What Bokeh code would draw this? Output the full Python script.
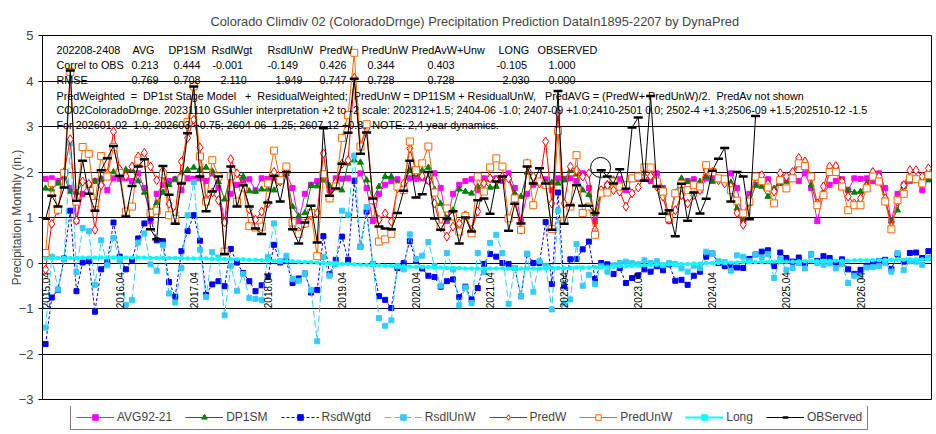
import math
from bokeh.plotting import figure
from bokeh.layouts import column
from bokeh.models import ColumnDataSource, Range1d, FixedTicker, Legend, LegendItem
from bokeh.core.properties import value
from bokeh.embed import file_html
from bokeh.resources import INLINE

nan = float("nan")
FONT = "Liberation Sans"

# ---------------- data (monthly, 2015.04 ... 2027.03) ----------------
avg92_21 = [
    1.85, 1.86, 1.80, 1.97, 1.65, 0.92, 1.52, 1.72, 1.80, 1.84, 1.60, 1.86,
    1.85, 1.86, 1.80, 1.97, 1.65, 0.92, 1.52, 1.72, 1.80, 1.84, 1.60, 1.86,
    1.85, 1.86, 1.80, 1.97, 1.65, 0.92, 1.52, 1.72, 1.80, 1.84, 1.60, 1.86,
    1.85, 1.86, 1.80, 1.97, 1.65, 0.92, 1.52, 1.72, 1.80, 1.84, 1.60, 1.86,
    1.85, 1.86, 1.80, 1.97, 1.65, 0.92, 1.52, 1.72, 1.80, 1.84, 1.60, 1.86,
    1.85, 1.86, 1.80, 1.97, 1.65, 0.92, 1.52, 1.72, 1.80, 1.84, 1.60, 1.86,
    1.85, 1.86, 1.80, 1.97, 1.65, 0.92, 1.52, 1.72, 1.80, 1.84, 1.60, 1.86,
    1.85, 1.86, 1.80, 1.97, 1.65, 0.92, 1.52, 1.72, 1.80, 1.84, 1.60, 1.86,
    1.85, 1.86, 1.80, 1.97, 1.65, 0.92, 1.52, 1.72, 1.80, 1.84, 1.60, 1.86,
    1.85, 1.86, 1.80, 1.97, 1.65, 0.92, 1.52, 1.72, 1.80, 1.84, 1.60, 1.86,
    1.85, 1.86, 1.80, 1.97, 1.65, 0.92, 1.52, 1.72, 1.80, 1.84, 1.60, 1.86,
    1.85, 1.86, 1.80, 1.97, 1.65, 0.92, 1.52, 1.72, 1.80, 1.84, 1.60, 1.86,
]
dp1sm = [
    1.64, 1.62, 1.75, 1.90, 1.57, 1.55, 1.78, 1.70, 1.80, 1.85, 1.95, 2.00,
    1.92, 2.05, 2.05, 1.80, 1.55, 1.13, 1.32, 1.55, 1.72, 1.84, 1.97, 2.05,
    2.10, 2.05, 2.10, 2.02, 1.78, 1.40, 1.97, 1.96, 1.90, 1.58, 1.57, 1.62,
    1.62, 1.60, 1.78, 1.96, 1.24, 1.03, 1.10, 1.70, 1.69, 1.82, 1.70, 1.70,
    1.60, 2.19, 2.26, 2.21, 1.82, 1.40, 1.68, 1.90, 1.90, 1.75, 1.74, 2.04,
    1.95, 2.03, 2.10, 1.62, 1.30, 0.98, 1.16, 1.62, 1.57, 1.53, 1.68, 1.77,
    1.66, 1.68, 1.90, 1.88, 1.53, 1.46, 1.99, 1.90, 1.75, 1.77, 1.77, 1.75,
    1.82, 2.04, 1.95, 1.60, 1.50, 1.08, 1.60, 1.74, 1.84, 1.68, 1.68, 1.86,
    1.93, 2.04, 2.10, 1.75, 1.62, 0.98, 1.55, 1.86, 1.79, 1.77, 1.79, 1.90,
    1.79, 1.82, 1.82, 1.77, 1.20, 0.95, 1.31, 1.71, 1.68, 1.46, 1.64, 1.74,
    1.79, 1.97, 2.19, 2.25, 1.71, 1.27, 1.53, 2.01, 2.12, 1.71, 1.60, 1.55,
    1.57, 1.74, 1.99, 1.86, 1.35, 0.93, 1.16, 1.68, 1.82, 1.81, 1.79, 1.82,
]
rsd_wgtd = [
    -1.78, -0.76, -0.59, 0.10, 1.15, -0.62, 0.01, 0.04, -1.07, -0.14, 0.02, 0.89,
    0.14, -0.14, 0.07, 0.54, 0.87, 0.99, 0.50, 0.48, -0.42, -0.74, 0.26, 0.70,
    1.05, 0.49, -0.70, -0.47, -0.40, -0.51, 0.31, 0.01, -0.22, -0.40, -0.62, -0.49,
    -0.31, 0.40, 0.01, 0.04, -0.44, -0.34, -0.23, -0.65, -0.59, 0.59, -0.24, 0.07,
    0.58, 0.07, 1.81, 0.36, 1.13, -0.02, -0.73, -0.81, -0.99, -0.11, 0.00, 0.48,
    0.05, -0.12, -0.28, -0.31, -0.52, -0.40, -0.36, -0.75, -0.52, -0.80, -0.55, -0.02,
    0.20, 0.14, 0.00, -0.02, -0.11, -0.73, 0.20, 0.00, 0.00, 0.90, -0.46, 1.55,
    -0.51, 0.08, 0.09, 0.30, 0.47, -0.35, 0.00, -0.03, -0.24, -0.11, -0.44, -0.33,
    -0.27, -0.14, -0.19, -0.07, -0.16, -0.03, -0.39, -0.37, -0.48, -0.28, -0.19, 0.14,
    0.21, 0.00, -0.07, -0.09, -0.10, -0.11, 0.09, 0.19, 0.25, 0.28, -0.07, 0.23,
    0.11, 0.03, 0.12, -0.02, 0.19, 0.04, 0.15, 0.11, 0.01, 0.08, -0.14, -0.24,
    -0.15, -0.06, 0.01, 0.04, 0.07, -0.13, 0.19, 0.03, 0.22, 0.23, 0.11, 0.26,
]
rsdl_unw = [
    -1.42, 0.14, -0.58, 0.08, 2.63, -0.20, 0.77, 0.70, -0.48, 0.50, -0.05, 0.55,
    0.06, -0.92, -0.81, 0.45, 0.65, -0.03, -0.17, 0.40, -0.67, -0.87, -0.11, 1.05,
    1.78, 0.29, -0.75, 0.24, 0.12, -1.15, -0.06, -0.61, -0.24, -0.77, -0.79, -0.82,
    0.13, 0.87, 0.04, 0.16, -0.35, -0.39, -0.23, -0.60, -1.72, 0.13, -0.28, -0.02,
    1.15, 1.06, 2.36, 0.35, 1.23, -0.02, -1.21, -1.38, -1.26, -0.07, -0.14, 0.63,
    0.09, 0.16, 0.46, -0.07, -0.50, 0.22, -0.14, -0.93, -0.54, -0.88, 0.22, -0.20,
    0.44, 0.62, 0.22, -0.90, -0.11, -0.73, 0.20, -0.63, 0.04, -0.06, -1.02, 1.15,
    -0.89, -0.80, 0.42, -0.50, -0.26, -0.46, -0.07, -0.19, -0.05, 0.00, 0.03, 0.00,
    -0.03, 0.06, 0.00, 0.04, -0.05, 0.00, -0.02, -0.12, -0.19, -0.06, -0.11, 0.25,
    0.21, 0.04, 0.02, -0.17, 0.17, 0.14, 0.04, 0.19, 0.12, 0.20, -0.33, 0.08,
    -0.15, -0.11, 0.00, -0.12, 0.19, 0.00, -0.04, -0.01, -0.12, -0.03, -0.44, -0.28,
    -0.30, -0.10, -0.09, -0.07, 0.00, -0.19, 0.22, -0.16, 0.04, 0.03, -0.04, 0.11,
]
pred_w = [
    -0.14, 0.86, 1.16, 2.00, 2.72, 0.93, 1.79, 1.74, 0.73, 1.71, 1.97, 2.89,
    2.06, 1.91, 2.12, 2.34, 2.42, 2.12, 1.82, 2.03, 1.30, 1.10, 2.23, 2.75,
    3.15, 2.54, 1.40, 1.55, 1.38, 0.89, 2.28, 1.97, 1.68, 1.18, 0.95, 1.13,
    1.31, 2.00, 1.79, 2.00, 0.80, 0.69, 0.87, 1.05, 1.10, 2.41, 1.46, 1.77,
    2.18, 2.26, 4.07, 2.57, 2.95, 1.38, 0.95, 1.09, 0.91, 1.64, 1.74, 2.52,
    2.00, 1.91, 1.82, 1.31, 0.78, 0.58, 0.80, 0.87, 1.05, 0.73, 1.13, 1.75,
    1.86, 1.82, 1.90, 1.86, 1.42, 0.73, 2.19, 1.90, 1.75, 2.67, 1.31, 3.30,
    1.31, 2.12, 2.04, 1.90, 1.97, 0.73, 1.60, 1.71, 1.60, 1.57, 1.24, 1.53,
    1.66, 1.90, 1.91, 1.68, 1.46, 0.95, 1.16, 1.49, 1.31, 1.49, 1.60, 2.04,
    2.00, 1.82, 1.75, 1.68, 1.10, 0.84, 1.40, 1.90, 1.93, 1.74, 1.57, 1.97,
    1.90, 2.00, 2.31, 2.23, 1.90, 1.31, 1.68, 2.12, 2.13, 1.79, 1.46, 1.31,
    1.42, 1.68, 2.00, 1.90, 1.42, 0.80, 1.35, 1.71, 2.04, 2.04, 1.90, 2.08,
]
pred_unw = [
    0.22, 1.76, 1.17, 1.98, 4.20, 1.35, 2.55, 2.40, 1.32, 2.35, 1.90, 2.55,
    1.98, 1.13, 1.24, 2.25, 2.20, 1.10, 1.15, 1.95, 1.05, 0.97, 1.86, 3.10,
    3.88, 2.34, 1.35, 2.26, 1.90, 0.25, 1.91, 1.35, 1.66, 0.81, 0.78, 0.80,
    1.75, 2.47, 1.82, 2.12, 0.89, 0.64, 0.87, 1.10, 0.15, 1.95, 1.42, 1.68,
    2.75, 3.25, 4.62, 2.56, 3.05, 1.38, 0.47, 0.52, 0.64, 1.68, 1.60, 2.67,
    2.04, 2.19, 2.56, 1.55, 0.80, 1.20, 1.02, 0.69, 1.03, 0.65, 1.90, 1.57,
    2.10, 2.30, 2.12, 0.98, 1.42, 0.73, 2.19, 1.27, 1.79, 1.71, 0.75, 2.90,
    0.93, 1.24, 2.37, 1.10, 1.24, 0.62, 1.53, 1.55, 1.79, 1.68, 1.71, 1.86,
    1.90, 2.10, 2.10, 1.79, 1.57, 0.98, 1.53, 1.74, 1.60, 1.71, 1.68, 2.15,
    2.00, 1.86, 1.84, 1.60, 1.37, 1.09, 1.35, 1.90, 1.80, 1.66, 1.31, 1.82,
    1.64, 1.86, 2.19, 2.13, 1.90, 1.27, 1.49, 2.00, 2.00, 1.68, 1.16, 1.27,
    1.27, 1.64, 1.90, 1.79, 1.35, 0.74, 1.38, 1.52, 1.86, 1.84, 1.75, 1.93,
]
long_term = [
    0.10, 0.10, 0.11, 0.11, 0.11, 0.11, 0.12, 0.12, 0.12, 0.12, 0.12, 0.12,
    0.12, 0.12, 0.12, 0.12, 0.12, 0.11, 0.11, 0.11, 0.11, 0.11, 0.11, 0.10,
    0.10, 0.10, 0.10, 0.09, 0.09, 0.09, 0.08, 0.08, 0.08, 0.07, 0.07, 0.06,
    0.06, 0.05, 0.05, 0.04, 0.04, 0.03, 0.02, 0.02, 0.01, 0.00, 0.00, -0.01,
    -0.02, -0.02, -0.03, -0.04, -0.04, -0.05, -0.05, -0.06, -0.06, -0.07, -0.07, -0.08,
    -0.08, -0.09, -0.09, -0.10, -0.10, -0.11, -0.11, -0.11, -0.12, -0.12, -0.12, -0.12,
    -0.12, -0.12, -0.12, -0.12, -0.12, -0.12, -0.12, -0.12, -0.12, -0.12, -0.11, -0.11,
    -0.11, -0.11, -0.10, -0.10, -0.10, -0.09, -0.09, -0.08, -0.08, -0.07, -0.07, -0.06,
    -0.06, -0.05, -0.05, -0.04, -0.04, -0.03, -0.03, -0.02, -0.02, -0.01, -0.01, 0.00,
    0.00, 0.00, 0.01, 0.01, 0.01, 0.02, 0.02, 0.02, 0.02, 0.03, 0.03, 0.03,
    0.03, 0.03, 0.04, 0.04, 0.04, 0.04, 0.05, 0.05, 0.05, 0.05, 0.05, 0.06,
    0.06, 0.06, 0.06, 0.06, 0.07, 0.07, 0.07, 0.07, 0.08, 0.08, 0.08, 0.08,
]
observed = [
    0.97, 1.48, 1.24, 1.66, 4.23, 1.37, 2.25, 1.52, 1.15, 2.04, 2.30, 2.57,
    1.92, 1.02, 1.69, 2.12, 2.28, 0.74, 0.52, 2.13, 1.50, 0.86, 1.75, 2.85,
    3.88, 1.90, 1.14, 1.57, 1.90, 0.20, 2.12, 1.24, 1.71, 1.24, 0.76, 0.64,
    1.33, 1.92, 1.35, 2.00, 0.74, 0.43, 0.89, 1.26, 0.45, 2.96, 1.48, 1.64,
    2.18, 2.86, 4.05, 2.40, 2.87, 1.42, 0.80, 0.76, 0.74, 1.10, 1.59, 2.25,
    1.44, 1.51, 2.00, 0.98, 0.73, 0.98, 1.14, 0.43, 1.00, 0.69, 1.38, 1.42,
    1.08, 1.79, 1.90, 0.71, 1.30, 0.87, 2.12, 1.75, 2.08, 1.75, 0.73, 3.78,
    0.86, 1.27, 1.71, 1.26, 1.26, 1.10, 2.04, 1.90, 1.75, 2.06, 1.63, 2.98,
    3.20, 1.81, 3.67, 1.68, 1.08, 1.16, 0.59, 1.74, 0.93, 1.55, 1.09, 1.41,
    2.03, 2.29, 2.53, 1.35, 2.00, 1.90, 0.96, 3.23, nan, nan, nan, nan,
    nan, nan, nan, nan, nan, nan, nan, nan, nan, nan, nan, nan,
    nan, nan, nan, nan, nan, nan, nan, nan, nan, nan, nan, nan,
]

tick_labels = ["2015.04", "2016.04", "2017.04", "2018.04", "2019.04", "2020.04",
               "2021.04", "2022.04", "2023.04", "2024.04", "2025.04", "2026.04"]

# statistics table written inside the chart
hdr_row = ["202208-2408", "AVG", "DP1SM", "RsdlWgt", "RsdlUnW", "PredW", "PredUnW",
           "PredAvW+Unw", "LONG", "OBSERVED"]
corr_row = ["Correl to OBS", "0.213", "0.444", "-0.001", "-0.149", "0.426", "0.344",
            "0.403", "-0.105", "1.000"]
rmse_row = ["RMSE", "0.769", "0.708", "2.110", "1.949", "0.747", "0.728", "0.728",
            "2.030", "0.000"]
note_lines = [
    "PredWeighted  =  DP1st Stage Model   +  ResidualWeighted;  PredUnW = DP11SM + ResidualUnW,   PredAVG = (PredW+ PredUnW)/2.  PredAv not shown",
    "CO02ColoradoDrnge. 20231110 GSuhler interpretation +2 to -2 scale: 202312+1.5; 2404-06 -1.0; 2407-09 +1.0;2410-2501 0.0; 2502-4 +1.3;2506-09 +1.5;202510-12 -1.5",
    "For 202601-02  1.0; 202603 +0.75; 2604-06  1.25; 2607-12 +0.8.  NOTE: 2,4 year dynamics.",
]
# ---------------------------------------------------------------------

n = len(avg92_21)
x = list(range(n))

p = figure(width=936, height=406, output_backend="svg", toolbar_location=None,
           x_range=Range1d(-0.5, n - 0.5), y_range=Range1d(-3, 5),
           x_axis_location=None,
           min_border_left=42, min_border_right=5, min_border_top=35, min_border_bottom=7,
           background_fill_color="white", border_fill_color="white")

p.title.text = "Colorado Climdiv 02 (ColoradoDrnge) Precipitation Prediction DataIn1895-2207 by DynaPred"
p.title.text_font = FONT
p.title.text_font_size = "12.8px"
p.title.text_font_style = "normal"
p.title.align = "left"
p.title.offset = 168
p.title.standoff = 14

ticks = FixedTicker(ticks=[-3, -2, -1, 0, 1, 2, 3, 4, 5])
p.yaxis.ticker = ticks
p.yaxis.axis_label = "Precipitation Monthly (in.)"
p.yaxis.axis_label_text_font = FONT
p.yaxis.axis_label_text_font_size = "12px"
p.yaxis.axis_label_text_font_style = "normal"
p.yaxis.axis_label_standoff = -8
p.yaxis.major_label_text_font = FONT
p.yaxis.major_label_text_font_size = "13px"
p.yaxis.major_label_standoff = 5
p.yaxis.major_tick_out = 4
p.yaxis.major_tick_in = 0
p.yaxis.minor_tick_out = 0
p.yaxis.minor_tick_in = 0
p.yaxis.axis_line_color = "black"
p.yaxis.major_tick_line_color = "black"
p.ygrid.ticker = ticks
p.ygrid.grid_line_color = "black"
p.ygrid.grid_line_width = 1
p.xgrid.visible = False
p.outline_line_color = "black"
p.outline_line_alpha = 1

src = ColumnDataSource(dict(x=x, avg=avg92_21, dp=dp1sm, rw=rsd_wgtd, ru=rsdl_unw,
                            pw=pred_w, pu=pred_unw, lg=long_term, ob=observed))

STYLES = [
    # label, column, colour, marker, size, fill, dash, line width, marker line width
    ("AVG92-21", "avg", "#FF00FF", "square", 5, "#FF00FF", "solid", 1.0, 1.0),
    ("DP1SM", "dp", "#008000", "triangle", 6, "#008000", "solid", 1.0, 1.0),
    ("RsdWgtd", "rw", "#0000FF", "square", 5, "#0000FF", "3 2", 1.0, 1.0),
    ("RsdlUnW", "ru", "#33CCFF", "square", 5, "#33CCFF", "7 3", 1.0, 1.0),
    ("PredW", "pw", "#FF0000", "diamond", 9, "white", "solid", 1.0, 1.0),
    ("PredUnW", "pu", "#FF6600", "square", 7, "white", "solid", 1.0, 1.0),
    ("Long", "lg", "#00FFFF", "square", 3, "#00FFFF", "solid", 2.0, 1.0),
    ("OBServed", "ob", "black", "dash", 9, "black", "solid", 1.0, 2.5),
]

for lab, col, color, mk, sz, fill, dash, lw, mlw in STYLES:
    p.line("x", col, source=src, line_color=color, line_width=lw, line_dash=dash)
    p.scatter("x", col, source=src, marker=mk, size=sz, line_color=color,
              fill_color=fill, line_width=mlw)

# circled annotation in the chart
p.scatter([89.9], [2.1], marker="circle", size=20, fill_color=None, line_color="black")

# category labels along the zero line (rotated)
p.text(x=[12 * k for k in range(len(tick_labels))], y=[-0.2] * len(tick_labels),
       text=tick_labels, angle=math.pi / 2, text_align="right", text_baseline="middle",
       text_font=value(FONT), text_font_size="10px", text_color="black")

# statistics table text (double spaces kept with no-break spaces)
def keep_spaces(s):
    return s.replace("  ", " \u00a0")

hdr_px = [56, 132, 168, 211, 267, 319, 361, 411, 498, 537]
corr_px = [56, 131, 173, 212, 267, 319, 367, 427, 496, 548]
rmse_px = [56, 131, 173, 220, 275, 319, 367, 427, 502, 548]
tx, ty, tt, toff = [], [], [], []
for row, pxs, yv in ((hdr_row, hdr_px, 4.68), (corr_row, corr_px, 4.35), (rmse_row, rmse_px, 4.02)):
    for t, px in zip(row, pxs):
        tx.append(-0.5); ty.append(yv); tt.append(t); toff.append(px - 42)
for t, yv in zip(note_lines, (3.68, 3.36, 3.03)):
    tx.append(-0.5); ty.append(yv); tt.append(keep_spaces(t)); toff.append(56 - 42)
tsrc = ColumnDataSource(dict(x=tx, y=ty, text=tt, xo=toff))
p.text("x", "y", text="text", x_offset="xo", source=tsrc, text_align="left",
       text_baseline="middle", text_font=value(FONT), text_font_size="10.8px",
       text_color="black")

# ---- legend strip below the chart (separate small figure) ----
lf = figure(width=936, height=28, output_backend="svg", toolbar_location=None,
            x_range=Range1d(0, 1), y_range=Range1d(0, 1),
            x_axis_location=None, y_axis_location=None,
            min_border_left=0, min_border_right=0, min_border_top=0, min_border_bottom=0,
            background_fill_color="white", border_fill_color="white")
lf.outline_line_color = None
lf.xgrid.visible = False
lf.ygrid.visible = False
items = []
for lab, col, color, mk, sz, fill, dash, lw, mlw in STYLES:
    # points placed outside the visible range so only the legend glyph shows
    esrc = ColumnDataSource(dict(x=[-5.0, -4.0], y=[-5.0, -5.0]))
    rl = lf.line("x", "y", source=esrc, line_color=color, line_width=lw, line_dash=dash)
    rs = lf.scatter("x", "y", source=esrc, marker=mk, size=sz, line_color=color,
                    fill_color=fill, line_width=mlw)
    items.append(LegendItem(label=lab, renderers=[rl, rs]))
legend = Legend(items=items, orientation="horizontal", location=(28, 4),
                border_line_color="black", border_line_width=1,
                glyph_width=38, glyph_height=14, label_height=14,
                label_text_font=FONT, label_text_font_size="12px", label_standoff=3,
                spacing=13, padding=5, margin=0, background_fill_color="white",
                background_fill_alpha=1)
lf.add_layout(legend)

layout = column(p, lf, spacing=0)
open("out.html", "w").write(file_html(layout, INLINE))
